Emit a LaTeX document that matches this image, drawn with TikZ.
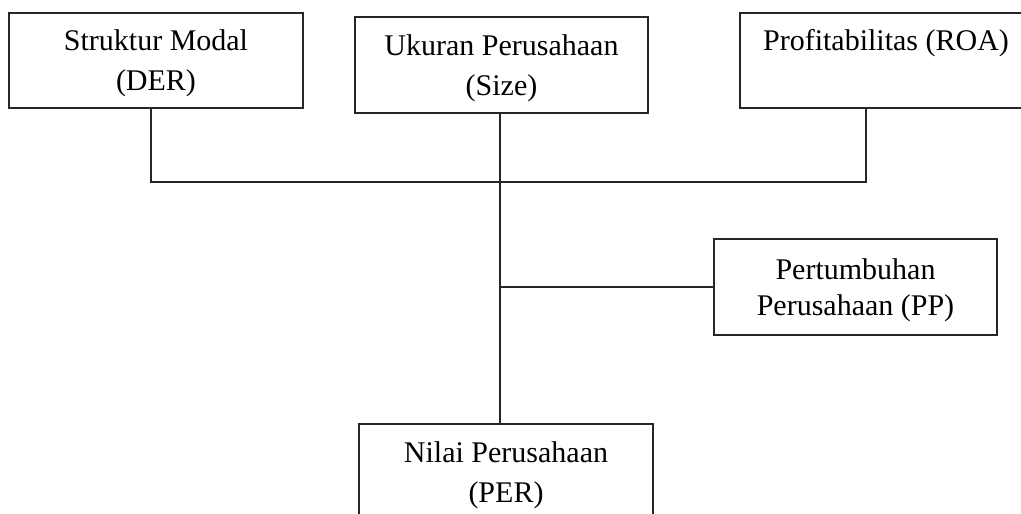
\documentclass[tikz,border=0pt]{standalone}
\usepackage{fontspec}
\setmainfont{Liberation Serif}
\begin{document}
\begin{tikzpicture}[x=1pt,y=-1pt,
  boxnode/.style={draw=black!85, line width=1.6pt, rectangle, inner sep=0pt,
    align=center, font=\fontsize{30}{40}\selectfont, text=black, text depth=0pt},
  link/.style={draw=black!85, line width=1.7pt}]
\useasboundingbox (0,0) rectangle (1021,514);
\begin{scope}
\clip (0,0) rectangle (1021,514);
\node[boxnode, minimum width=294pt, minimum height=95pt] (der) at (156,60.4) {Struktur Modal\\(DER)};
\node[boxnode, minimum width=293pt, minimum height=96pt] (size) at (501.5,65) {Ukuran Perusahaan\\(Size)};
\node[boxnode, minimum width=292pt, minimum height=95pt, text depth=-4pt] (roa) at (886,60.4) {Profitabilitas (ROA)\\\strut};
\node[boxnode, minimum width=283pt, minimum height=96pt, font=\fontsize{30}{36}\selectfont, text depth=-6pt] (pp) at (855.5,287) {Pertumbuhan\\Perusahaan (PP)};
\node[boxnode, minimum width=294pt, minimum height=95pt] (per) at (506,471.7) {Nilai Perusahaan\\(PER)};
\coordinate (j) at (500,182);
\draw[link] ([xshift=-5pt]der.south) |- (j);
\draw[link] ([xshift=-20pt]roa.south) |- (j);
\draw[link] (size.south -| j) -- (per.north -| j);
\draw[link] (pp.west) -- (pp.west -| j);
\end{scope}
\end{tikzpicture}
\end{document}
